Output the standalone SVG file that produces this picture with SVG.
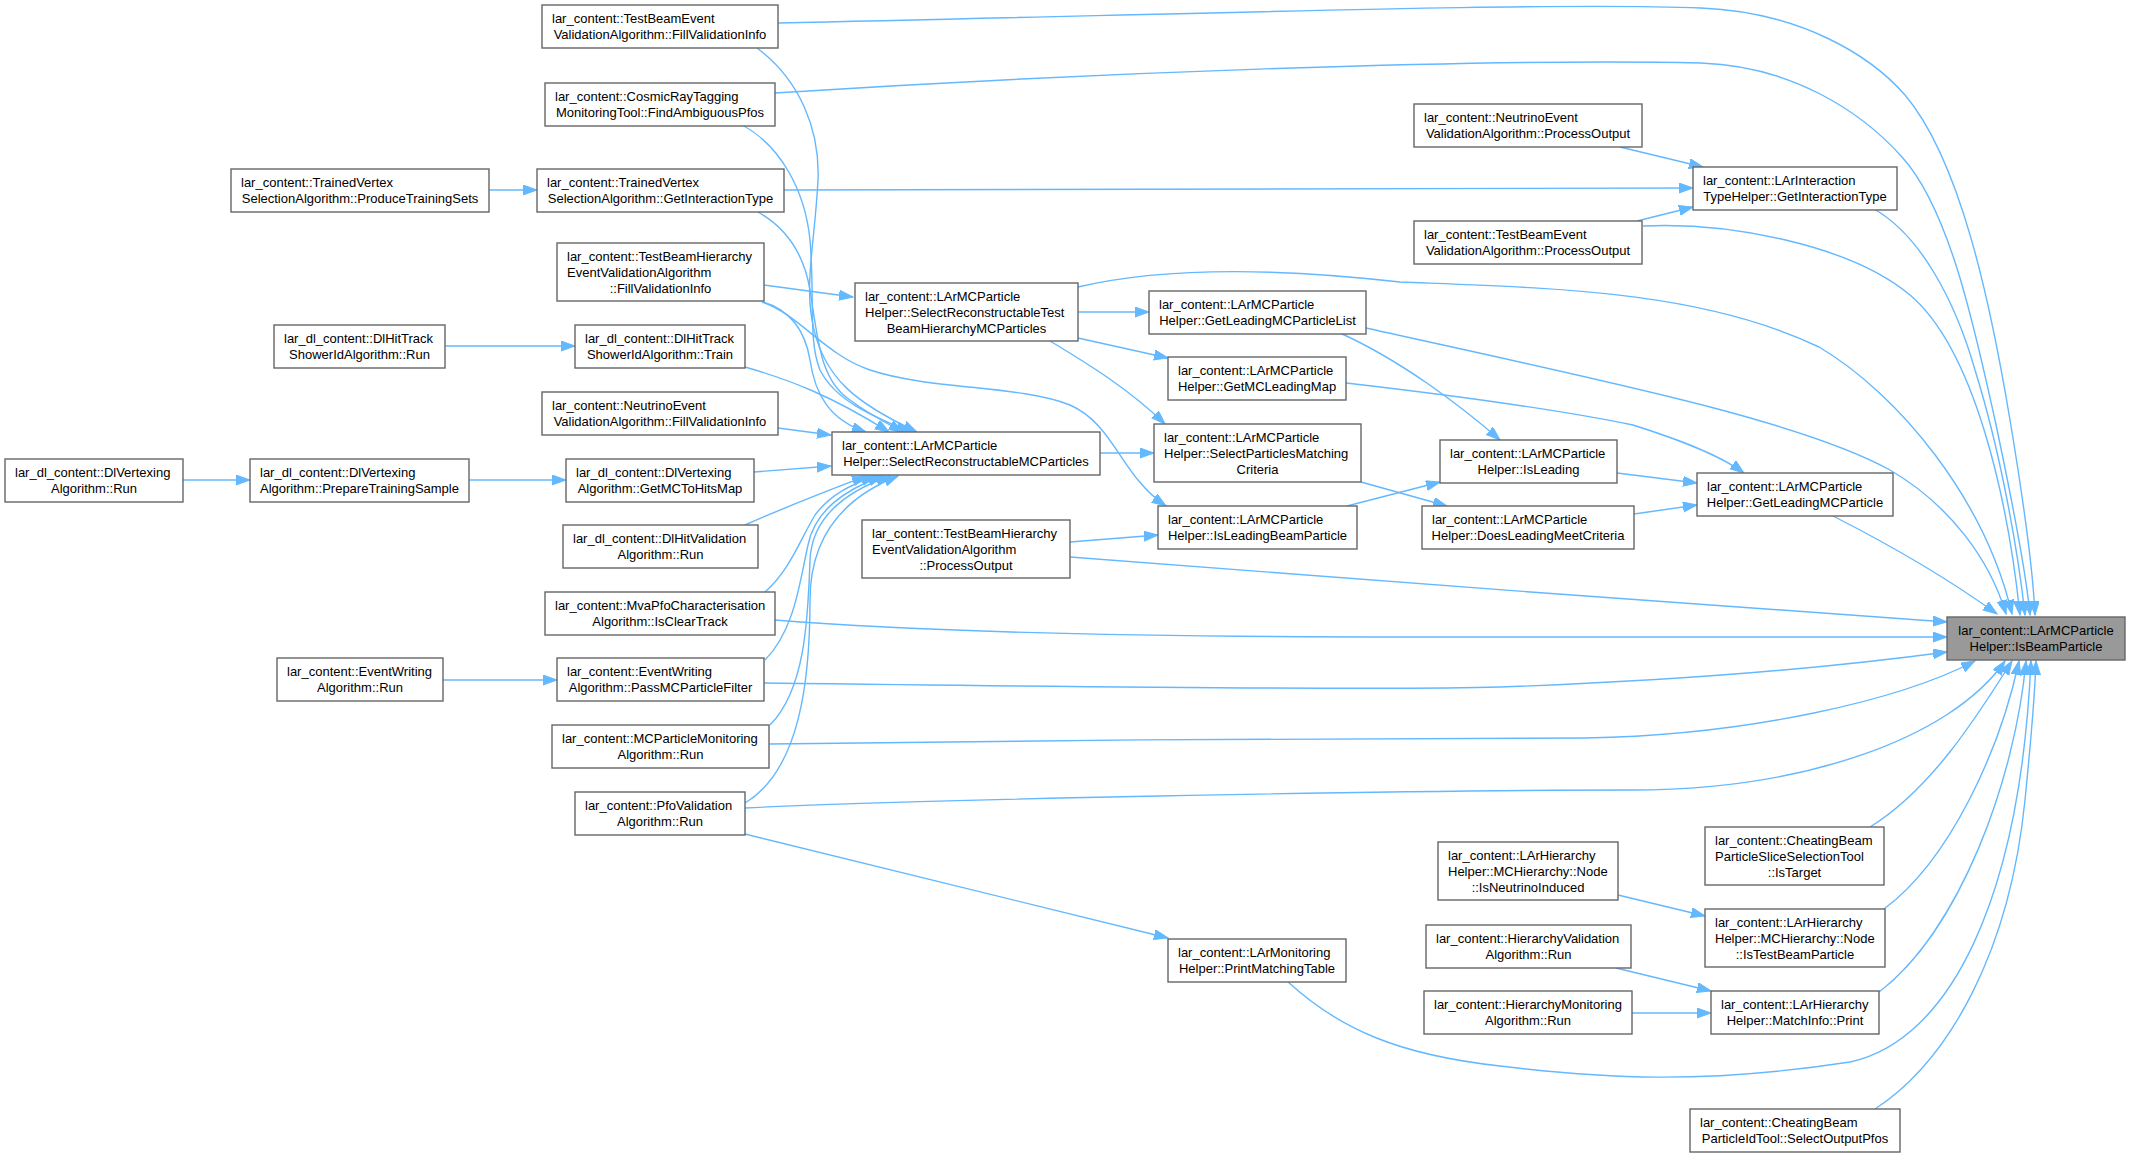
<svg xmlns="http://www.w3.org/2000/svg" width="2130" height="1157" viewBox="0 0 2130 1157">
<style>
.n rect{fill:#ffffff;stroke:#666666;stroke-width:1.4}
.tg rect{fill:#999999;stroke:#666666;stroke-width:1.4}
text{font-family:"Liberation Sans",Arial,Helvetica,sans-serif;font-size:13px;fill:#000000}
.c{text-anchor:middle}
.e path{fill:none;stroke:#63b8ff;stroke-width:1.4;marker-end:url(#ah)}
</style>
<defs>
<marker id="ah" markerWidth="16" markerHeight="12" refX="14" refY="5" orient="auto" markerUnits="userSpaceOnUse">
<path d="M0,0 L14,5 L0,10 z" fill="#63b8ff" stroke="#63b8ff" stroke-width="1"/>
</marker>
</defs>
<rect x="0" y="0" width="2130" height="1157" fill="#ffffff"/>
<g id="edges" class="e">
<path d="M778,23 C1200,14 1550,2 1701,8 C1800,12 1870,55 1905,95 C1960,160 1990,300 2010,420 C2025,510 2033,570 2035,615"/>
<path d="M775,93 C1100,72 1500,58 1701,63 C1790,66 1860,110 1902,157 C1950,210 1975,330 1995,420 C2012,500 2026,570 2030,615"/>
<path d="M1643,226 C1730,222 1850,245 1910,295 C1975,350 2008,500 2020,615"/>
<path d="M1874,209 C1920,235 1955,300 1975,370 C2000,450 2018,550 2025,615"/>
<path d="M1078,287 C1150,270 1250,265 1400,282 C1550,288 1700,290 1819,347 C1900,395 1985,500 2012,614"/>
<path d="M1366,328 C1600,380 1800,420 1890,470 C1950,505 1990,560 2006,614"/>
<path d="M1833,516 C1890,545 1950,580 1997,614"/>
<path d="M1070,557 C1300,575 1700,605 1947,622"/>
<path d="M775,620 C950,634 1200,637 1400,637 L1947,637"/>
<path d="M764,683 C1000,686 1400,690 1500,687 C1700,680 1850,665 1947,652"/>
<path d="M769,744 C1000,740 1400,738 1586,738 C1750,735 1900,700 1975,661"/>
<path d="M745,808 C900,800 1400,790 1633,790 C1800,790 1950,740 2005,661"/>
<path d="M1870,827 C1930,790 1975,720 2012,661"/>
<path d="M1884,909 C1950,860 2000,750 2019,661"/>
<path d="M1879,992 C1960,930 2015,780 2026,661"/>
<path d="M1287,981 C1340,1030 1400,1055 1500,1066 C1600,1078 1700,1085 1850,1062 C1950,1040 2020,900 2031,661"/>
<path d="M1875,1109 C1950,1060 2010,950 2025,800 C2032,730 2035,690 2036,661"/>
<path d="M757,48 C800,80 820,130 818,180 C815,240 805,280 812,320 C822,380 860,405 917,432"/>
<path d="M742,125 C780,145 805,190 810,240 C815,300 808,340 820,370 C835,400 870,415 910,432"/>
<path d="M758,212 C790,230 805,260 810,290 C818,340 820,380 850,400 C870,415 885,422 903,432"/>
<path d="M764,285 L853,297"/>
<path d="M763,302 C790,310 805,330 810,360 C815,395 830,420 866,432"/>
<path d="M762,302 C800,315 825,355 870,370 C930,390 1020,385 1070,405 C1115,425 1120,475 1166,506"/>
<path d="M745,367 C790,380 830,395 889,432"/>
<path d="M778,428 L831,435"/>
<path d="M754,472 L831,466"/>
<path d="M745,525 C790,505 830,490 866,476"/>
<path d="M765,592 C790,570 800,540 815,515 C830,495 850,485 875,476"/>
<path d="M765,660 C795,630 800,580 808,545 C815,510 845,490 882,476"/>
<path d="M770,725 C805,690 808,620 810,560 C812,515 850,490 890,476"/>
<path d="M745,803 C800,770 810,680 810,600 C810,530 850,495 898,476"/>
<path d="M745,834 L1168,938"/>
<path d="M489,190 L537,190"/>
<path d="M445,346 L575,346"/>
<path d="M183,480 L250,480"/>
<path d="M469,480 L566,480"/>
<path d="M443,680 L557,680"/>
<path d="M784,190 L1693,188"/>
<path d="M1620,147 L1703,167"/>
<path d="M1637,221 L1693,207"/>
<path d="M1078,312 L1149,312"/>
<path d="M1078,338 L1168,358"/>
<path d="M1050,341 C1090,365 1130,390 1165,424"/>
<path d="M1100,453 L1154,453"/>
<path d="M1361,482 L1447,506"/>
<path d="M1347,506 L1440,482"/>
<path d="M1070,542 L1158,535"/>
<path d="M1340,333 C1400,360 1460,405 1500,440"/>
<path d="M1346,383 C1450,395 1560,410 1633,425 C1680,440 1720,455 1744,473"/>
<path d="M1617,473 L1697,483"/>
<path d="M1634,514 L1697,505"/>
<path d="M1618,895 L1705,916"/>
<path d="M1616,968 L1711,991"/>
<path d="M1632,1013 L1711,1013"/>
</g>
<g id="n_tbev_fvi" class="n"><rect x="542" y="5" width="236" height="43"/><text x="552" y="23">lar_content::TestBeamEvent</text><text class="c" x="660" y="39">ValidationAlgorithm::FillValidationInfo</text></g>
<g id="n_crt" class="n"><rect x="545" y="83" width="230" height="43"/><text x="555" y="101">lar_content::CosmicRayTagging</text><text class="c" x="660" y="117">MonitoringTool::FindAmbiguousPfos</text></g>
<g id="n_tvs_pts" class="n"><rect x="231" y="169" width="258" height="43"/><text x="241" y="187">lar_content::TrainedVertex</text><text class="c" x="360" y="203">SelectionAlgorithm::ProduceTrainingSets</text></g>
<g id="n_tvs_git" class="n"><rect x="537" y="169" width="247" height="43"/><text x="547" y="187">lar_content::TrainedVertex</text><text class="c" x="660.5" y="203">SelectionAlgorithm::GetInteractionType</text></g>
<g id="n_tbh_fvi" class="n"><rect x="557" y="243" width="207" height="58"/><text x="567" y="261">lar_content::TestBeamHierarchy</text><text x="567" y="277">EventValidationAlgorithm</text><text class="c" x="660.5" y="293">::FillValidationInfo</text></g>
<g id="n_dht_run" class="n"><rect x="274" y="325" width="171" height="43"/><text x="284" y="343">lar_dl_content::DlHitTrack</text><text class="c" x="359.5" y="359">ShowerIdAlgorithm::Run</text></g>
<g id="n_dht_train" class="n"><rect x="575" y="325" width="170" height="43"/><text x="585" y="343">lar_dl_content::DlHitTrack</text><text class="c" x="660" y="359">ShowerIdAlgorithm::Train</text></g>
<g id="n_nev_fvi" class="n"><rect x="542" y="392" width="236" height="43"/><text x="552" y="410">lar_content::NeutrinoEvent</text><text class="c" x="660" y="426">ValidationAlgorithm::FillValidationInfo</text></g>
<g id="n_dlv_run" class="n"><rect x="5" y="459" width="178" height="43"/><text x="15" y="477">lar_dl_content::DlVertexing</text><text class="c" x="94" y="493">Algorithm::Run</text></g>
<g id="n_dlv_pts" class="n"><rect x="250" y="459" width="219" height="43"/><text x="260" y="477">lar_dl_content::DlVertexing</text><text class="c" x="359.5" y="493">Algorithm::PrepareTrainingSample</text></g>
<g id="n_dlv_gmc" class="n"><rect x="566" y="459" width="188" height="43"/><text x="576" y="477">lar_dl_content::DlVertexing</text><text class="c" x="660" y="493">Algorithm::GetMCToHitsMap</text></g>
<g id="n_dhv_run" class="n"><rect x="563" y="525" width="195" height="43"/><text x="573" y="543">lar_dl_content::DlHitValidation</text><text class="c" x="660.5" y="559">Algorithm::Run</text></g>
<g id="n_mva" class="n"><rect x="545" y="592" width="230" height="43"/><text x="555" y="610">lar_content::MvaPfoCharacterisation</text><text class="c" x="660" y="626">Algorithm::IsClearTrack</text></g>
<g id="n_ew_run" class="n"><rect x="277" y="658" width="166" height="43"/><text x="287" y="676">lar_content::EventWriting</text><text class="c" x="360" y="692">Algorithm::Run</text></g>
<g id="n_ew_pmc" class="n"><rect x="557" y="658" width="207" height="43"/><text x="567" y="676">lar_content::EventWriting</text><text class="c" x="660.5" y="692">Algorithm::PassMCParticleFilter</text></g>
<g id="n_mcpm" class="n"><rect x="552" y="725" width="217" height="43"/><text x="562" y="743">lar_content::MCParticleMonitoring</text><text class="c" x="660.5" y="759">Algorithm::Run</text></g>
<g id="n_pfo" class="n"><rect x="575" y="792" width="170" height="43"/><text x="585" y="810">lar_content::PfoValidation</text><text class="c" x="660" y="826">Algorithm::Run</text></g>
<g id="n_srtb" class="n"><rect x="855" y="283" width="223" height="58"/><text x="865" y="301">lar_content::LArMCParticle</text><text x="865" y="317">Helper::SelectReconstructableTest</text><text class="c" x="966.5" y="333">BeamHierarchyMCParticles</text></g>
<g id="n_glmcl" class="n"><rect x="1149" y="291" width="217" height="43"/><text x="1159" y="309">lar_content::LArMCParticle</text><text class="c" x="1257.5" y="325">Helper::GetLeadingMCParticleList</text></g>
<g id="n_gmclm" class="n"><rect x="1168" y="357" width="178" height="43"/><text x="1178" y="375">lar_content::LArMCParticle</text><text class="c" x="1257" y="391">Helper::GetMCLeadingMap</text></g>
<g id="n_srmc" class="n"><rect x="832" y="432" width="268" height="43"/><text x="842" y="450">lar_content::LArMCParticle</text><text class="c" x="966" y="466">Helper::SelectReconstructableMCParticles</text></g>
<g id="n_spmc" class="n"><rect x="1154" y="424" width="207" height="58"/><text x="1164" y="442">lar_content::LArMCParticle</text><text x="1164" y="458">Helper::SelectParticlesMatching</text><text class="c" x="1257.5" y="474">Criteria</text></g>
<g id="n_ilbp" class="n"><rect x="1158" y="506" width="199" height="43"/><text x="1168" y="524">lar_content::LArMCParticle</text><text class="c" x="1257.5" y="540">Helper::IsLeadingBeamParticle</text></g>
<g id="n_tbh_po" class="n"><rect x="862" y="520" width="208" height="58"/><text x="872" y="538">lar_content::TestBeamHierarchy</text><text x="872" y="554">EventValidationAlgorithm</text><text class="c" x="966" y="570">::ProcessOutput</text></g>
<g id="n_nev_po" class="n"><rect x="1414" y="104" width="228" height="43"/><text x="1424" y="122">lar_content::NeutrinoEvent</text><text class="c" x="1528" y="138">ValidationAlgorithm::ProcessOutput</text></g>
<g id="n_lit" class="n"><rect x="1693" y="167" width="204" height="43"/><text x="1703" y="185">lar_content::LArInteraction</text><text class="c" x="1795" y="201">TypeHelper::GetInteractionType</text></g>
<g id="n_tbev_po" class="n"><rect x="1414" y="221" width="228" height="43"/><text x="1424" y="239">lar_content::TestBeamEvent</text><text class="c" x="1528" y="255">ValidationAlgorithm::ProcessOutput</text></g>
<g id="n_il" class="n"><rect x="1440" y="440" width="177" height="43"/><text x="1450" y="458">lar_content::LArMCParticle</text><text class="c" x="1528.5" y="474">Helper::IsLeading</text></g>
<g id="n_glmcp" class="n"><rect x="1697" y="473" width="196" height="43"/><text x="1707" y="491">lar_content::LArMCParticle</text><text class="c" x="1795" y="507">Helper::GetLeadingMCParticle</text></g>
<g id="n_dlmc" class="n"><rect x="1422" y="506" width="212" height="43"/><text x="1432" y="524">lar_content::LArMCParticle</text><text class="c" x="1528" y="540">Helper::DoesLeadingMeetCriteria</text></g>
<g id="n_target" class="tg"><rect x="1947" y="617" width="178" height="43"/><text class="c" x="2036" y="635">lar_content::LArMCParticle</text><text class="c" x="2036" y="651">Helper::IsBeamParticle</text></g>
<g id="n_cbps" class="n"><rect x="1705" y="827" width="179" height="58"/><text x="1715" y="845">lar_content::CheatingBeam</text><text x="1715" y="861">ParticleSliceSelectionTool</text><text class="c" x="1794.5" y="877">::IsTarget</text></g>
<g id="n_lhn_ini" class="n"><rect x="1438" y="842" width="180" height="58"/><text x="1448" y="860">lar_content::LArHierarchy</text><text x="1448" y="876">Helper::MCHierarchy::Node</text><text class="c" x="1528" y="892">::IsNeutrinoInduced</text></g>
<g id="n_lhn_itb" class="n"><rect x="1705" y="909" width="180" height="58"/><text x="1715" y="927">lar_content::LArHierarchy</text><text x="1715" y="943">Helper::MCHierarchy::Node</text><text class="c" x="1795" y="959">::IsTestBeamParticle</text></g>
<g id="n_hv" class="n"><rect x="1426" y="925" width="205" height="43"/><text x="1436" y="943">lar_content::HierarchyValidation</text><text class="c" x="1528.5" y="959">Algorithm::Run</text></g>
<g id="n_hm" class="n"><rect x="1424" y="991" width="208" height="43"/><text x="1434" y="1009">lar_content::HierarchyMonitoring</text><text class="c" x="1528" y="1025">Algorithm::Run</text></g>
<g id="n_lhmi" class="n"><rect x="1711" y="991" width="168" height="43"/><text x="1721" y="1009">lar_content::LArHierarchy</text><text class="c" x="1795" y="1025">Helper::MatchInfo::Print</text></g>
<g id="n_cbpi" class="n"><rect x="1690" y="1109" width="210" height="43"/><text x="1700" y="1127">lar_content::CheatingBeam</text><text class="c" x="1795" y="1143">ParticleIdTool::SelectOutputPfos</text></g>
<g id="n_lmh" class="n"><rect x="1168" y="939" width="178" height="43"/><text x="1178" y="957">lar_content::LArMonitoring</text><text class="c" x="1257" y="973">Helper::PrintMatchingTable</text></g>
</svg>
